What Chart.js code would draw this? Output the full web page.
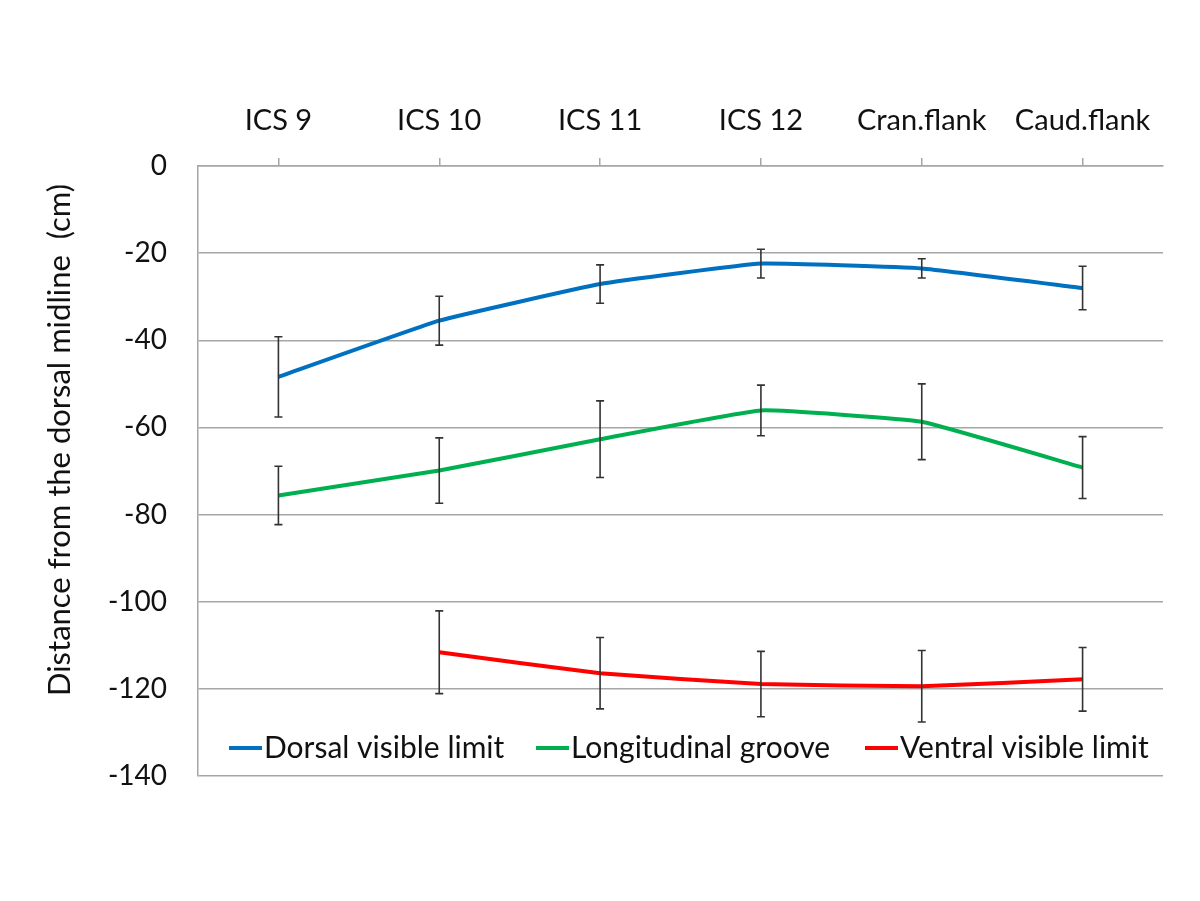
<!DOCTYPE html>
<html>
<head>
<meta charset="utf-8">
<script src="https://cdn.jsdelivr.net/npm/chart.js@4.4.1/dist/chart.umd.min.js"></script>
<style>
  html, body { margin: 0; padding: 0; background: #fff; }
  #wrap { width: 1200px; height: 901px; }
</style>
</head>
<body>
<div id="wrap"><canvas id="myChart" width="1200" height="901"></canvas></div>
<script>
const categorias = ['ICS 9', 'ICS 10', 'ICS 11', 'ICS 12', 'Cran.flank', 'Caud.flank'];
const dorsal = [-48.4, -35.5, -27.1, -22.4, -23.5, -28.0];
const dorsalErr = [9.2, 5.6, 4.4, 3.3, 2.2, 5.0];
const surco = [-75.6, -69.9, -62.7, -56.1, -58.7, -69.2];
const surcoErr = [6.7, 7.5, 8.8, 5.8, 8.7, 7.1];
const ventral = [null, -111.6, -116.4, -118.9, -119.4, -117.8];
const ventralErr = [null, 9.5, 8.2, 7.5, 8.2, 7.3];
const yTicks = [0, -20, -40, -60, -80, -100, -120, -140];

const fuente = 'Lato, "Open Sans", sans-serif';
const gris = '#a6a6a6';

// barras de error, se dibujan con las escalas del grafico
const errorBars = {
  id: 'errorBars',
  afterDatasetsDraw(chart) {
    const ctx = chart.ctx;
    const x = chart.scales.x;
    const y = chart.scales.y;
    ctx.save();
    ctx.strokeStyle = '#333';
    ctx.lineWidth = 1.6;
    chart.data.datasets.forEach(ds => {
      ds.data.forEach((v, i) => {
        if (v === null) return;
        const e = ds.errores[i];
        const px = x.getPixelForValue(i);
        const y1 = y.getPixelForValue(v + e);
        const y2 = y.getPixelForValue(v - e);
        ctx.beginPath();
        ctx.moveTo(px, y1); ctx.lineTo(px, y2);
        ctx.moveTo(px - 4, y1); ctx.lineTo(px + 4, y1);
        ctx.moveTo(px - 4, y2); ctx.lineTo(px + 4, y2);
        ctx.stroke();
      });
    });
    ctx.restore();
  }
};

// leyenda dentro del area y titulo del eje y
const extras = {
  id: 'extras',
  afterDraw(chart) {
    const ctx = chart.ctx;
    ctx.save();
    ctx.fillStyle = '#111';
    ctx.font = '30px ' + fuente;
    ctx.textBaseline = 'middle';
    const posX = [229, 536, 865];
    chart.data.datasets.forEach((ds, i) => {
      const x0 = posX[i];
      ctx.strokeStyle = ds.borderColor;
      ctx.lineWidth = 4;
      ctx.beginPath();
      ctx.moveTo(x0, 748); ctx.lineTo(x0 + 33, 748);
      ctx.stroke();
      ctx.fillText(ds.label, x0 + 35, 748);
    });
    ctx.font = '31px ' + fuente;
    ctx.translate(60, 440);
    ctx.rotate(-Math.PI / 2);
    ctx.textAlign = 'center';
    ctx.fillText('Distance from the dorsal midline  (cm)', 0, 0);
    ctx.restore();
  }
};

const ctx = document.getElementById('myChart');
const myChart = new Chart(ctx, {
  type: 'line',
  data: {
    labels: categorias,
    datasets: [
      { label: 'Dorsal visible limit', data: dorsal, errores: dorsalErr, borderColor: '#0070c0' },
      { label: 'Longitudinal groove', data: surco, errores: surcoErr, borderColor: '#00b050' },
      { label: 'Ventral visible limit', data: ventral, errores: ventralErr, borderColor: '#ff0000' }
    ].map(d => Object.assign(d, { borderWidth: 4, pointRadius: 0, tension: 0.1, fill: false, spanGaps: false }))
  },
  options: {
    responsive: false,
    animation: false,
    layout: { padding: { top: 0, left: 0, right: 37, bottom: 125 } },
    plugins: { legend: { display: false }, tooltip: { enabled: false } },
    scales: {
      x: {
        position: 'top',
        offset: true,
        grid: { drawOnChartArea: false, drawTicks: true, tickLength: 8, color: gris, lineWidth: 1.5 },
        border: { color: gris, width: 1.5 },
        ticks: { color: '#111', font: { family: fuente, size: 29 }, padding: 20, maxRotation: 0 },
        afterFit(s) { s.height = 166; }
      },
      y: {
        min: -140, max: 0,
        afterBuildTicks(s) { s.ticks = yTicks.map(v => ({ value: v })); },
        grid: { drawTicks: false, color: gris, lineWidth: 1.5 },
        border: { color: gris, width: 1.5 },
        ticks: { color: '#111', font: { family: fuente, size: 28 }, padding: 31 },
        afterFit(s) { s.width = 198; }
      }
    }
  },
  plugins: [errorBars, extras]
});
</script>
</body>
</html>
